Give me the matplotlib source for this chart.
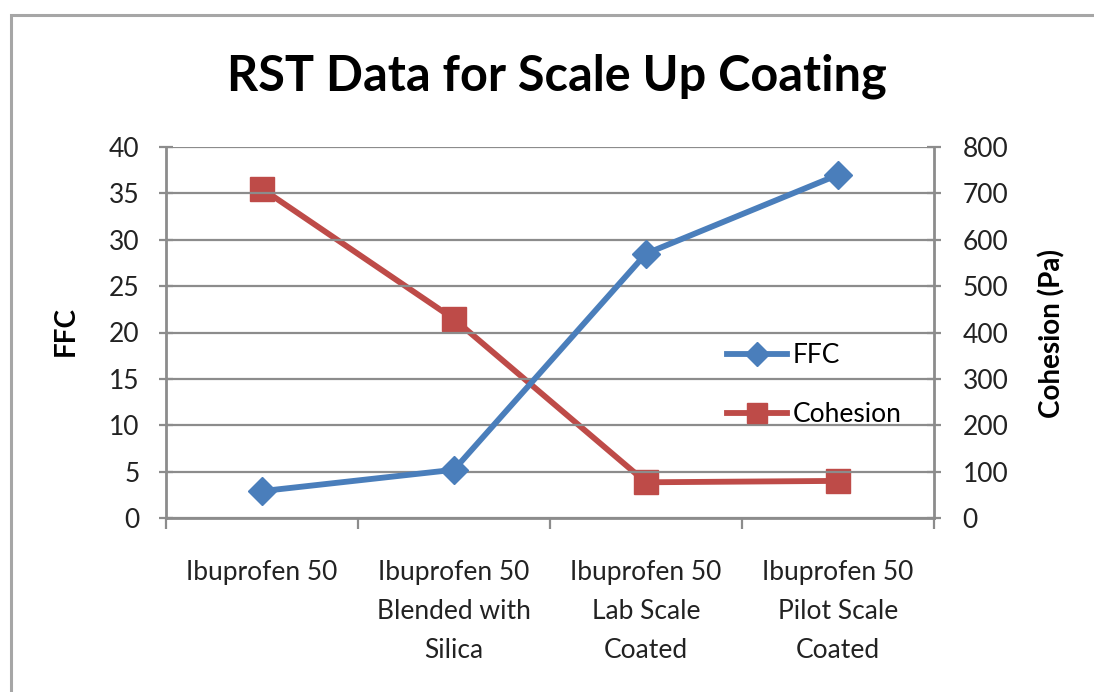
import matplotlib
matplotlib.use("Agg")
import matplotlib.pyplot as plt
from matplotlib.patches import Rectangle

categories = ["Ibuprofen 50", "Ibuprofen 50\nBlended with\nSilica",
              "Ibuprofen 50\nLab Scale\nCoated", "Ibuprofen 50\nPilot Scale\nCoated"]
ffc = [2.9, 5.2, 28.5, 37.0]
cohesion = [710, 429, 77, 80]
ffc_ticks = [0, 5, 10, 15, 20, 25, 30, 35, 40]
coh_ticks = [0, 100, 200, 300, 400, 500, 600, 700, 800]

BLUE = "#4A7EBB"
RED = "#BE4B48"
GRID = "#8C8C8C"
TXT = "#222222"
FONT = "Lato"
FS = 19

plt.rcParams["font.family"] = [FONT, "DejaVu Sans"]

W, H = 1094, 692
fig = plt.figure(figsize=(W / 100, H / 100), dpi=100)
fig.patch.set_facecolor("white")

# chart frame
fig.add_artist(Rectangle((10.5 / W, -0.1), 1.2, (H - 14.5) / H + 0.1,
                         transform=fig.transFigure, fill=False,
                         edgecolor="#A6A6A6", linewidth=2.2))

ax = fig.add_axes([166 / W, 1 - 518 / H, (934 - 166) / W, (518 - 147) / H])
ax2 = ax.twinx()

x = list(range(len(categories)))
ax.set_xlim(-0.5, len(categories) - 0.5)
ax.set_ylim(0, 40)
ax2.set_ylim(0, 800)
ax.set_yticks(ffc_ticks)
ax2.set_yticks(coh_ticks)

ax.grid(axis="y", color=GRID, linewidth=1.6)
ax.set_axisbelow(True)

for a in (ax, ax2):
    for s in a.spines.values():
        s.set_visible(False)
ax.spines["left"].set_visible(True)
ax.spines["bottom"].set_visible(True)
ax2.spines["right"].set_visible(True)
for s in (ax.spines["left"], ax.spines["bottom"], ax2.spines["right"]):
    s.set_color(GRID)
    s.set_linewidth(2)

ax.tick_params(axis="y", direction="inout", length=10, width=1.6, color=GRID,
               labelsize=FS, labelcolor=TXT, pad=14)
ax2.tick_params(axis="y", direction="inout", length=10, width=1.6, color=GRID,
                labelsize=FS, labelcolor=TXT, pad=15.5)

ax.set_xticks([i - 0.5 for i in range(len(categories) + 1)], minor=False)
ax.set_xticklabels([])
ax.tick_params(axis="x", which="major", direction="out", length=8, width=1.6,
               color=GRID)
ax.set_xticks(x, minor=True)
ax.set_xticklabels(categories, minor=True, fontsize=FS, color=TXT,
                   linespacing=1.72)
ax.tick_params(axis="x", which="minor", length=0, pad=30)

l2, = ax2.plot(x, cohesion, color=RED, linewidth=4.2, marker="s",
               markersize=17, markerfacecolor=RED, markeredgecolor=RED,
               label="Cohesion", zorder=3)
l1, = ax.plot(x, ffc, color=BLUE, linewidth=4.2, marker="D",
              markersize=14.5, markerfacecolor=BLUE, markeredgecolor=BLUE,
              label="FFC", zorder=3)
ax.set_zorder(ax2.get_zorder() + 1)
ax.patch.set_visible(False)

ax.set_ylabel("FFC", fontsize=20, fontweight="bold", color="black")
ax2.set_ylabel("Cohesion (Pa)", fontsize=20, fontweight="bold", color="black")
ax.yaxis.label.set_verticalalignment("center")
ax2.yaxis.label.set_verticalalignment("center")
ax.yaxis.set_label_coords((65.5 - 166) / 768, (518 - 331) / 371)
ax2.yaxis.set_label_coords((1052 - 166) / 768, (518 - 333) / 371)

ax.legend([l1, l2], ["FFC", "Cohesion"], loc="upper left",
          bbox_to_anchor=(0.73, 0.471), frameon=False, fontsize=FS,
          handlelength=2.27, handletextpad=0.23, labelspacing=1.28,
          borderaxespad=0, borderpad=0, markerscale=0.85)

fig.text(557 / W, 1 - 76 / H, "RST Data for Scale Up Coating",
         fontsize=35, fontweight="bold", ha="center", va="center")

fig.savefig("out.png", dpi=100)
